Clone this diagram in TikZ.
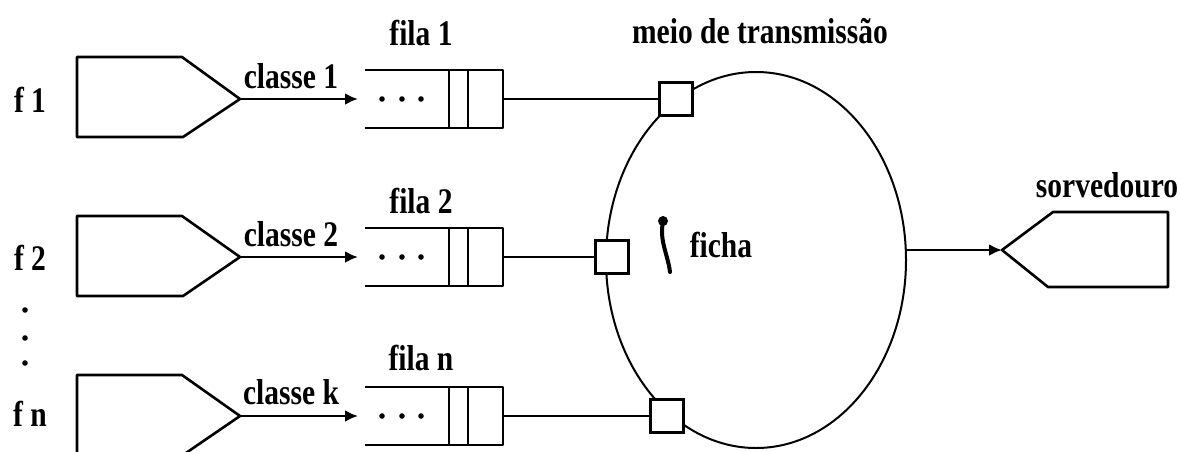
\documentclass[tikz,border=0pt]{standalone}
\usepackage{fontspec}
\setmainfont[FakeStretch=0.82]{Liberation Serif}
\usetikzlibrary{arrows.meta,shapes.geometric}
\begin{document}
\begin{tikzpicture}[x=1pt,y=-1pt,
  lbl/.style={font=\bfseries\fontsize{36}{40}\selectfont, anchor=base, inner sep=0pt},
  shp/.style={line width=2.6pt, line join=round},
  arr/.style={line width=2.6pt, -{Latex[length=13pt,width=12pt]}},
  sq/.style={draw, line width=2.6pt, fill=white, minimum size=33pt, inner sep=0pt},
  ring/.style={ellipse, draw, line width=2pt, minimum width=300pt, minimum height=376pt, inner sep=0pt}]
\useasboundingbox (0,0) rectangle (1180,451);
\clip (0,0) rectangle (1180,451);

% sources
\draw[shp] (77,57) -- (182,57) -- (240,99) coordinate (t1) -- (183,137) -- (77,137) -- cycle;
\draw[shp] (77,216) -- (182,216) -- (240,257) coordinate (t2) -- (183,296) -- (77,296) -- cycle;
\draw[shp] (77,375) -- (182,375) -- (240,416) coordinate (tn) -- (183,455) -- (77,455) -- cycle;

\node[lbl] (lf1) at (30,112) {f 1};
\node[lbl] (lf2) at (30,270) {f 2};
\node[lbl] (lfn) at (30,426) {f n};
\fill (25,310) circle (2.8);
\fill (25,338) circle (2.8);
\fill (25,363) circle (2.8);

% queues
\foreach \n/\y in {1/99,2/257,n/416}{
  \coordinate (qin\n) at (358,\y);
  \coordinate (qout\n) at (503,\y);
  \draw[shp] (365,\y-29) -- (503,\y-29) -- (503,\y+29) -- (365,\y+29);
  \draw[shp] (449,\y-29) -- (449,\y+29);
  \draw[shp] (468,\y-29) -- (468,\y+29);
  \fill (382,\y) circle (2.8);
  \fill (402,\y) circle (2.8);
  \fill (421,\y) circle (2.8);
}
\draw[arr] (t1) -- (qin1);
\draw[arr] (t2) -- (qin2);
\draw[arr] (tn) -- (qinn);
\node[lbl] (c1) at (291,88) {classe 1};
\node[lbl] (c2) at (291,246) {classe 2};
\node[lbl] (ck) at (291,404) {classe k};
\node[lbl] (fl1) at (421,45) {fila 1};
\node[lbl] (fl2) at (421,213) {fila 2};
\node[lbl] (fln) at (421,370) {fila n};

% ring
\node[ring] (ring) at (756,260) {};
\node[sq] (s1) at (676,99) {};
\node[sq] (s2) at (612,257) {};
\node[sq] (sn) at (667,416) {};
\draw[shp] (qout1) -- (s1);
\draw[shp] (qout2) -- (s2);
\draw[shp] (qoutn) -- (sn);
\node[lbl] (meio) at (760,43) {meio de transmissão};

% token
\fill (663,221) circle (5);
\draw[line width=4pt, line cap=round] (663,222) .. controls (659,240) and (668,255) .. (670,272);
\node[lbl] (ficha) at (721,257) {ficha};

% sink
\coordinate (snk) at (1002,250);
\draw[shp] (snk) -- (1053,212) -- (1168,212) -- (1168,287) -- (1048,287) -- cycle;
\draw[arr] (ring.east |- snk) -- (snk);
\node[lbl] (sorv) at (1107,197) {sorvedouro};
\end{tikzpicture}
\end{document}
